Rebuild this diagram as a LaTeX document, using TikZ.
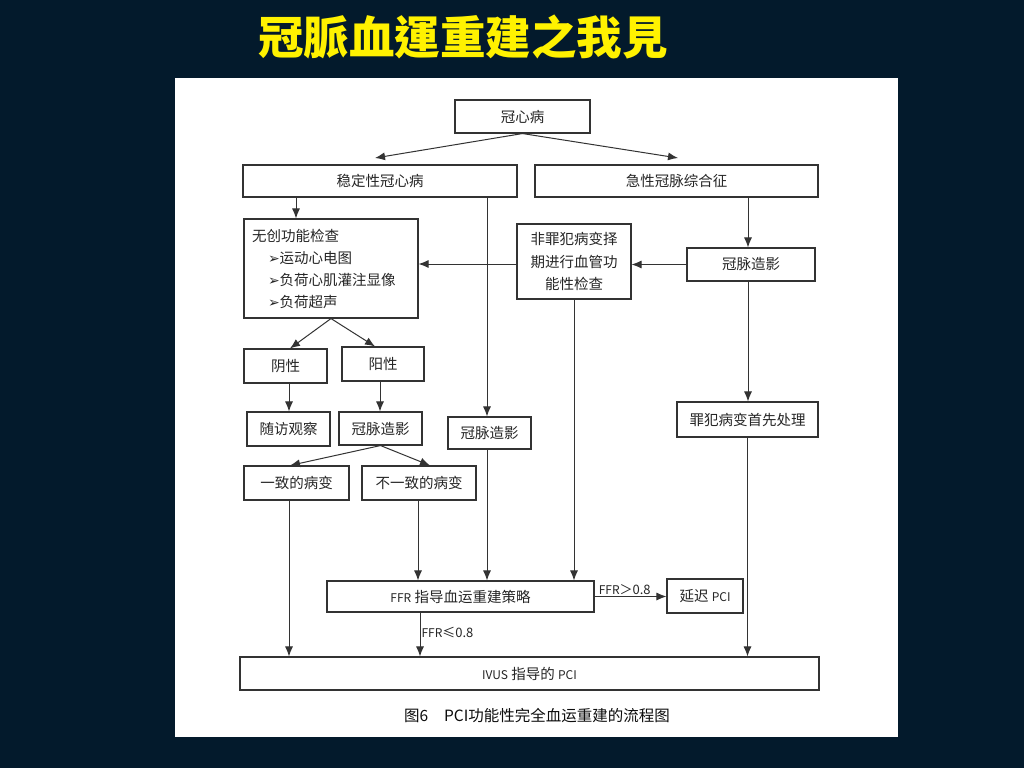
\documentclass[tikz,border=0pt]{standalone}
\usepackage{fontspec}
\newfontfamily\cjk{Noto Sans CJK SC}
\newfontfamily\cjktc{Noto Sans CJK TC}
\newfontfamily\dejavu{DejaVu Sans}
\usetikzlibrary{arrows.meta}
\definecolor{bg}{HTML}{031A2C}
\definecolor{ln}{HTML}{333333}
\newcommand{\lat}[1]{{\fontsize{12}{13}\selectfont #1}}
\newcommand{\bul}{{\dejavu\fontsize{14}{14}\selectfont ➢}}
\begin{document}
\begin{tikzpicture}[x=1pt,y=-1pt,
  box/.style={draw=ln, line width=1.1pt, fill=white, inner sep=0pt,
    font=\cjk\fontsize{14.5}{16}\selectfont, text=black!85},
  arr/.style={draw=ln, line width=1pt, -{Latex[length=10pt,width=8pt,fill=ln]}},
  lbl/.style={font=\cjk\fontsize{13}{14}\selectfont, text=black!85, inner sep=1pt}]
\fill[bg] (0,0) rectangle (1024,768);
\useasboundingbox (0,0) rectangle (1024,768);
\fill[white] (175,78) rectangle (898,737);
\node[font=\cjktc\bfseries\fontsize{45.5}{50}\selectfont, text=yellow] (title) at (463,37) {冠脈血運重建之我見};

% boxes
\node[box, minimum width=135pt, minimum height=33pt] (top) at (522.5,116.5) {冠心病};
\node[box, minimum width=274pt, minimum height=32pt] (sta) at (380,181) {稳定性冠心病};
\node[box, minimum width=283pt, minimum height=32pt] (acs) at (676.5,181) {急性冠脉综合征};
\node[box, minimum width=174pt, minimum height=99pt, text width=158pt, align=left,
  font=\cjk\fontsize{14.5}{22}\selectfont] (nif) at (331,268.5)
  {无创功能检查\\\hspace*{16pt}\bul 运动心电图\\\hspace*{16pt}\bul 负荷心肌灌注显像\\\hspace*{16pt}\bul 负荷超声};
\node[box, minimum width=114pt, minimum height=75pt, text width=100pt, align=center,
  font=\cjk\fontsize{14.5}{22.5}\selectfont] (nco) at (574,261.5)
  {非罪犯病变择\\期进行血管功\\能性检查};
\node[box, minimum width=128pt, minimum height=33pt] (acg) at (751,264.5) {冠脉造影};
\node[box, minimum width=83pt, minimum height=34pt] (neg) at (285.5,366) {阴性};
\node[box, minimum width=82pt, minimum height=34pt] (pos) at (383,364) {阳性};
\node[box, minimum width=83pt, minimum height=34pt] (fol) at (288.5,429) {随访观察};
\node[box, minimum width=83pt, minimum height=33pt] (cag1) at (380.5,428.5) {冠脉造影};
\node[box, minimum width=83pt, minimum height=32pt] (cag2) at (489.5,433) {冠脉造影};
\node[box, minimum width=141pt, minimum height=35pt] (cul) at (747.5,419.5) {罪犯病变首先处理};
\node[box, minimum width=105pt, minimum height=34pt] (con) at (296.5,483) {一致的病变};
\node[box, minimum width=114pt, minimum height=34pt] (dis) at (419,483) {不一致的病变};
\node[box, minimum width=267pt, minimum height=31pt] (ffr) at (460.5,596.5) {\lat{FFR} 指导血运重建策略};
\node[box, minimum width=76pt, minimum height=34pt] (del) at (705,596) {延迟 \lat{PCI}};
\node[box, minimum width=579pt, minimum height=33pt] (ivus) at (529.5,673.5) {\lat{IVUS} 指导的 \lat{PCI}};

\node[font=\cjk\fontsize{15.5}{17}\selectfont, text=black!95] (cap) at (537,716) {图6\hspace{16pt}PCI功能性完全血运重建的流程图};

% connectors
\coordinate (t1) at (375,158);
\coordinate (t2) at (678,158);
\draw[arr] (top.south) -- (t1);
\draw[arr] (top.south) -- (t2);
\draw[arr] ([xshift=-84pt]sta.south) -- ([xshift=-35pt]nif.north);
\draw[arr] ([xshift=107pt]sta.south) -- ([xshift=-2.5pt]cag2.north);
\draw[arr] ([xshift=71.5pt]acs.south) -- ([xshift=-3pt]acg.north);
\draw[arr] (acg.west) -- (acg.west -| nco.east);
\draw[arr] ([yshift=-2.5pt]nco.west) -- ([yshift=-2.5pt]nco.west -| nif.east);
\draw[arr] (nco.south) -- (nco.south |- ffr.north);
\draw[arr] ([xshift=-3pt]acg.south) -- ([xshift=-3pt]acg.south |- cul.north);
\draw[arr] (cul.south) -- (cul.south |- ivus.north);
\draw[arr] (nif.south) -- ([xshift=4.5pt]neg.north);
\draw[arr] (nif.south) -- ([xshift=-8pt]pos.north);
\draw[arr] ([xshift=3.5pt]neg.south) -- ([xshift=3.5pt]neg.south |- fol.north);
\draw[arr] ([xshift=-3pt]pos.south) -- ([xshift=-3pt]pos.south |- cag1.north);
\draw[arr] (cag1.south) -- ([xshift=-6.5pt]con.north);
\draw[arr] (cag1.south) -- ([xshift=11pt]dis.north);
\draw[arr] ([xshift=-7.5pt]con.south) -- ([xshift=-7.5pt]con.south |- ivus.north);
\draw[arr] ([xshift=-1pt]dis.south) -- ([xshift=-1pt]dis.south |- ffr.north);
\draw[arr] ([xshift=-2.5pt]cag2.south) -- ([xshift=-2.5pt]cag2.south |- ffr.north);
\draw[arr] (ffr.east) -- node[lbl, above, pos=0.42] (l1) {\lat{FFR}＞0.8} (ffr.east -| del.west);
\draw[arr] ([xshift=-40.5pt]ffr.south) -- node[lbl, right, pos=0.45] (l2) {\lat{FFR}≤0.8} ([xshift=-40.5pt]ffr.south |- ivus.north);
\end{tikzpicture}
\end{document}
